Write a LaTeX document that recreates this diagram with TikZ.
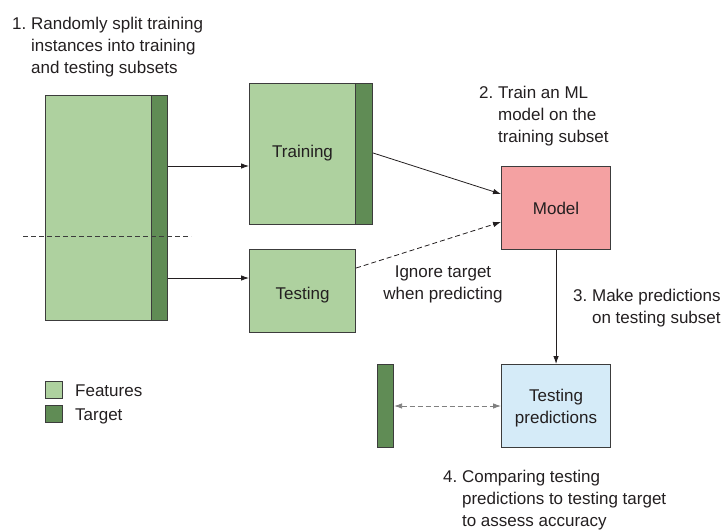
\documentclass[tikz,border=0pt]{standalone}
\usepackage{fontspec}
\setmainfont{Liberation Sans}
\usetikzlibrary{arrows.meta}
\definecolor{featfill}{HTML}{AED19F}
\definecolor{targfill}{HTML}{608C55}
\definecolor{modelfill}{HTML}{F4A1A2}
\definecolor{predfill}{HTML}{D5EBF8}
\definecolor{edge}{HTML}{3C3C3C}
\definecolor{ink}{HTML}{231F20}
\tikzset{
  box/.style={draw=edge, line width=1.1pt, inner sep=0pt, anchor=north west},
  feat/.style={box, fill=featfill},
  targ/.style={box, fill=targfill},
  lbl/.style={text=ink, font=\fontsize{17}{22}\selectfont, inner sep=0pt},
  % multi-line notes are placed by the baseline of their last line
  note/.style={lbl, align=left, anchor=base west},
  longdash/.style={dash pattern=on 5pt off 3pt},
  conn/.style={draw=ink, line width=0.8pt, -{Latex[length=8pt,width=5.5pt]}},
}
\begin{document}
\begin{tikzpicture}[x=1pt,y=-1pt]
\useasboundingbox (0,0) rectangle (727,531);

% full data set: features and target column
\node[feat, minimum width=106pt, minimum height=225pt] (all) at (45,95) {};
\node[targ, minimum width=16pt, minimum height=225pt] (allT) at (151,95) {};
\draw[longdash, draw=edge, line width=0.8pt] (23,236) -- (191,236);

% training subset
\node[feat, minimum width=106pt, minimum height=141pt] (train) at (249,83) {};
\node[targ, minimum width=17pt, minimum height=141pt] (trainT) at (355,83) {};
\node[lbl, anchor=base] at (train.center |- 0,157) {Training};

% testing subset
\node[feat, minimum width=106pt, minimum height=83pt] (test) at (249,249) {};
\node[lbl, anchor=base] at (test.center |- 0,299) {Testing};

% model
\node[box, fill=modelfill, minimum width=109pt, minimum height=83pt] (model) at (501,166) {};
\node[lbl, anchor=base] at (model.center |- 0,214) {Model};

% predictions and testing target
\node[box, fill=predfill, minimum width=109pt, minimum height=83pt] (pred) at (501,364) {};
\node[lbl, align=center, anchor=base] at (pred.center |- 0,423) {Testing\\predictions};
\node[targ, minimum width=16pt, minimum height=83pt] (testT) at (377,364) {};

% connectors
\draw[conn] (allT.east |- 0,166) -- (train.west |- 0,166);
\draw[conn] (allT.east |- 0,278) -- (test.west |- 0,278);
\draw[conn] (trainT.east |- 0,153) -- (model.west |- 0,194);
\draw[conn, longdash] (test.east |- 0,268) -- (model.west |- 0,222);
\draw[conn] (model.south) -- (pred.north);
\draw[draw=gray, line width=0.8pt, longdash, {Latex[length=8pt,width=5.5pt,gray]}-{Latex[length=8pt,width=5.5pt,gray]}]
  (testT.east |- 0,406) -- (pred.west |- 0,406);

% legend
\node[feat, minimum width=17pt, minimum height=17pt] (legF) at (45,381) {};
\node[targ, minimum width=17pt, minimum height=17pt] (legT) at (45,405) {};
\node[lbl, anchor=base west] at (75,396) {Features};
\node[lbl, anchor=base west] at (75,420) {Target};

% annotations
\node[note] at (12,73) {1.~Randomly split training\\\hphantom{1.~}instances into training\\\hphantom{1.~}and testing subsets};
\node[note] at (479,142.5) {2.~Train an ML\\\hphantom{2.~}model on the\\\hphantom{2.~}training subset};
\node[note] at (573,323) {3.~Make predictions\\\hphantom{3.~}on testing subset};
\node[note] at (443,526) {4.~Comparing testing\\\hphantom{4.~}predictions to testing target\\\hphantom{4.~}to assess accuracy};
\node[lbl, align=center, anchor=base] at (443,299) {Ignore target\\when predicting};
\end{tikzpicture}
\end{document}
